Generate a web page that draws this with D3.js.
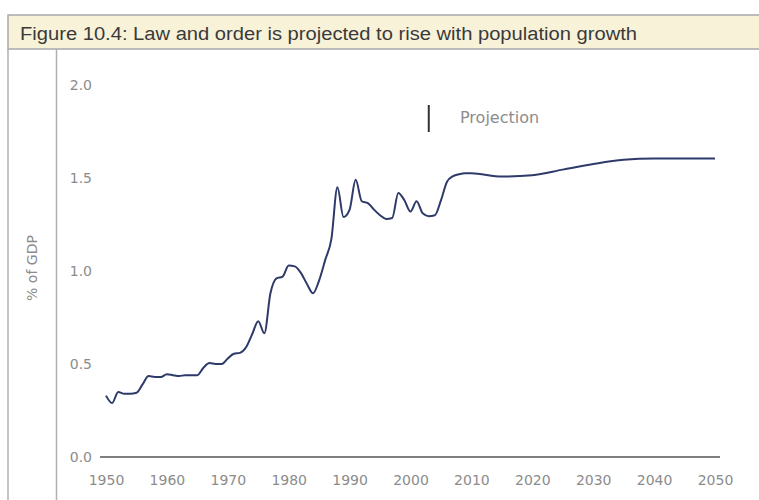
<!DOCTYPE html>
<html>
<head>
<meta charset="utf-8">
<script src="https://cdn.jsdelivr.net/npm/d3@7"></script>
<style>
  html, body { margin: 0; padding: 0; background: #ffffff; }
  svg { display: block; }
</style>
</head>
<body>
<svg id="chart" width="759" height="500"></svg>
<script>
// ---- Data ----
const titleText = "Figure 10.4: Law and order is projected to rise with population growth";
const yAxisLabel = "% of GDP";
const projectionLabel = "Projection";
const projectionStartYear = 2003;

const years = [
  1950, 1951, 1952, 1953, 1954, 1955, 1956, 1957, 1958, 1959,
  1960, 1961, 1962, 1963, 1964, 1965, 1966, 1967, 1968, 1969,
  1970, 1971, 1972, 1973, 1974, 1975, 1976, 1977, 1978, 1979,
  1980, 1981, 1982, 1983, 1984, 1985, 1986, 1987, 1988, 1989,
  1990, 1991, 1992, 1993, 1994, 1995, 1996, 1997, 1998, 1999,
  2000, 2001, 2002, 2003, 2004, 2005, 2006, 2007, 2008, 2009,
  2010, 2015, 2020, 2025, 2030, 2035, 2040, 2045, 2050
];
const values = [
  0.33, 0.29, 0.35, 0.34, 0.34, 0.345, 0.39, 0.435, 0.43, 0.43,
  0.445, 0.44, 0.435, 0.44, 0.44, 0.44, 0.48, 0.505, 0.50, 0.50,
  0.53, 0.555, 0.56, 0.59, 0.66, 0.73, 0.665, 0.88, 0.96, 0.97,
  1.03, 1.025, 0.99, 0.93, 0.88, 0.95, 1.06, 1.17, 1.45, 1.29,
  1.33, 1.49, 1.375, 1.365, 1.33, 1.30, 1.28, 1.285, 1.42, 1.38,
  1.32, 1.375, 1.31, 1.295, 1.30, 1.38, 1.48, 1.51, 1.52, 1.525,
  1.525, 1.508, 1.515, 1.545, 1.575, 1.598, 1.605, 1.605, 1.605
];
const xTicks = [1950, 1960, 1970, 1980, 1990, 2000, 2010, 2020, 2030, 2040, 2050];
const yTicks = [0.0, 0.5, 1.0, 1.5, 2.0];

// ---- Drawing ----
const svg = d3.select("#chart");
const FONT = "'DejaVu Sans', 'Liberation Sans', sans-serif";

const x = d3.scaleLinear().domain([1950, 2050]).range([106, 715]);
const y = d3.scaleLinear().domain([0, 2]).range([457, 85]);

// Frame: title bar and left label panel
svg.append("rect")
  .attr("x", 8).attr("y", 15)
  .attr("width", 760).attr("height", 34)
  .attr("fill", "#f8f2d9")
  .attr("stroke", "#a8a8a8").attr("stroke-width", 1.5);

svg.append("line").attr("x1", 8).attr("x2", 8).attr("y1", 49).attr("y2", 500)
  .attr("stroke", "#b0b0b0").attr("stroke-width", 1.5);
svg.append("line").attr("x1", 56.5).attr("x2", 56.5).attr("y1", 49).attr("y2", 500)
  .attr("stroke", "#b0b0b0").attr("stroke-width", 1.5);

svg.append("text")
  .attr("x", 20).attr("y", 40)
  .attr("font-family", "'Liberation Sans', Arial, sans-serif")
  .attr("font-size", 18)
  .attr("fill", "#3a3a3a")
  .attr("textLength", 617)
  .attr("lengthAdjust", "spacingAndGlyphs")
  .text(titleText);

// Y-axis label
svg.append("text")
  .attr("transform", "translate(37,268) rotate(-90)")
  .attr("text-anchor", "middle")
  .attr("font-family", FONT)
  .attr("font-size", 14)
  .attr("fill", "#8c8c8c")
  .text(yAxisLabel);

// Y axis (labels only)
const yAxis = d3.axisLeft(y).tickValues(yTicks).tickFormat(d3.format(".1f")).tickSize(0).tickPadding(0);
const gy = svg.append("g").attr("transform", "translate(92,0)").call(yAxis);
gy.select(".domain").remove();
gy.selectAll("text")
  .attr("font-family", FONT).attr("font-size", 14).attr("fill", "#8c8c8c");

// X axis
const xAxis = d3.axisBottom(x).tickValues(xTicks).tickFormat(d3.format("d")).tickSize(0).tickPadding(18);
const gx = svg.append("g").attr("transform", `translate(0,${y(0)})`).call(xAxis);
gx.select(".domain").remove();
gx.selectAll("text")
  .attr("font-family", FONT).attr("font-size", 14).attr("fill", "#8c8c8c");
svg.append("line")
  .attr("x1", 100).attr("x2", 720)
  .attr("y1", y(0)).attr("y2", y(0))
  .attr("stroke", "#555").attr("stroke-width", 1.5);

// Projection marker
svg.append("line")
  .attr("x1", x(projectionStartYear)).attr("x2", x(projectionStartYear))
  .attr("y1", 105).attr("y2", 132)
  .attr("stroke", "#333").attr("stroke-width", 2);
svg.append("text")
  .attr("x", 460).attr("y", 123)
  .attr("font-family", FONT)
  .attr("font-size", 16)
  .attr("fill", "#8c8c8c")
  .text(projectionLabel);

// Data line
const data = years.map((yr, i) => ({ year: yr, value: values[i] }));
const line = d3.line()
  .x(d => x(d.year))
  .y(d => y(d.value))
  .curve(d3.curveMonotoneX);

svg.append("path")
  .datum(data)
  .attr("d", line)
  .attr("fill", "none")
  .attr("stroke", "#2e3a6a")
  .attr("stroke-width", 2)
  .attr("stroke-linejoin", "round");
</script>
</body>
</html>
